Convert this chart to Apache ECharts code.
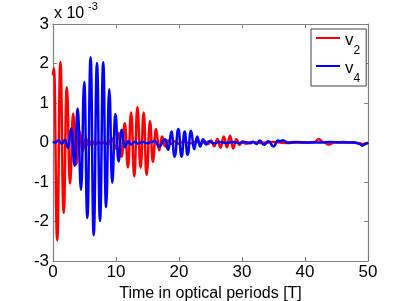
<!DOCTYPE html>
<html><head><meta charset="utf-8">
<script src="https://cdn.jsdelivr.net/npm/echarts@6/dist/echarts.min.js"></script>
<style>html,body{margin:0;padding:0;background:#fff}#c{width:407px;height:301px}</style>
</head><body><div id="c"></div>
<script>
// Values in units of 1e-3
const xTicks = [0, 10, 20, 30, 40, 50];
const yTicks = [-3, -2, -1, 0, 1, 2, 3];
const seriesNames = ['v2', 'v4'];

const v2X = [0, 0.15, 0.67, 1.17, 1.69, 2.19, 2.70, 3.20, 3.68, 4.20, 4.70, 5.20, 5.70, 6.20, 6.70, 7.20, 7.70, 8.20, 8.70, 9.40, 9.90, 10.40, 10.90, 11.40, 11.90, 12.40, 12.90, 13.40, 13.90, 14.40, 14.85, 15.40, 15.85, 16.35, 16.85, 17.30, 17.80, 18.30, 18.80, 19.30, 19.80, 20.80, 21.80, 22.80, 23.60, 24.10, 24.60, 25.10, 25.60, 26.10, 26.60, 27.10, 27.60, 28.10, 28.60, 29.10, 29.60, 30.10, 30.60, 31.5, 33, 35, 37, 39, 40.5, 41.4, 42.2, 43.0, 43.8, 44.6, 46, 47.5, 48.5, 49.3, 50];
const v2Y = [1.70, 1.88, -2.48, 2.04, -1.78, 1.40, -1.04, 0.73, -0.55, 0.30, -0.22, 0.11, -0.08, 0.04, -0.05, 0.01, -0.04, 0.01, -0.05, 0.10, -0.16, 0.24, -0.36, 0.49, -0.63, 0.76, -0.86, 0.90, -0.64, 0.76, -0.82, 0.54, -0.49, 0.34, -0.20, 0.15, -0.10, 0.05, -0.04, 0.03, -0.03, 0.02, -0.02, 0.02, -0.02, 0.03, -0.04, 0.05, -0.09, 0.09, -0.13, 0.15, -0.12, 0.17, -0.15, 0.08, -0.06, 0.03, -0.03, 0.01, -0.01, 0.01, -0.01, 0.00, 0.00, 0.01, 0.08, 0.00, -0.05, 0.00, 0.01, 0.00, -0.02, -0.04, 0.00];

const v4X = [0, 0.4, 0.9, 1.4, 1.9, 2.4, 2.9, 3.44, 3.92, 4.45, 4.96, 5.45, 5.97, 6.46, 6.98, 7.46, 7.97, 8.42, 8.93, 9.40, 9.90, 10.40, 10.90, 11.40, 11.90, 12.40, 13.0, 13.5, 14.2, 15.0, 15.7, 16.2, 16.8, 17.8, 18.3, 18.8, 19.3, 19.9, 20.4, 20.9, 21.35, 21.9, 22.4, 22.9, 23.35, 23.8, 24.3, 24.8, 25.5, 26.5, 27.5, 28.5, 29.5, 30.5, 31.3, 31.8, 32.3, 32.8, 33.5, 34.2, 35.0, 35.7, 36.1, 36.5, 37.2, 38.5, 40, 42, 44, 46, 48, 48.6, 49.1, 49.6, 50];
const v4Y = [0.03, 0.00, 0.06, -0.03, 0.07, -0.14, 0.36, -0.59, 0.86, -1.20, 1.53, -1.91, 2.16, -2.35, 2.01, -1.99, 2.03, -1.64, 1.35, -1.02, 0.72, -0.48, 0.32, -0.12, 0.03, -0.05, 0.02, -0.03, 0.02, -0.02, 0.02, 0.04, -0.10, 0.08, -0.19, 0.28, -0.36, 0.34, -0.36, 0.28, -0.31, 0.30, -0.17, 0.15, -0.10, 0.08, -0.05, 0.03, -0.02, 0.01, -0.01, 0.01, -0.01, 0.01, -0.02, 0.02, -0.04, 0.05, -0.06, 0.03, -0.10, 0.05, 0.03, 0.06, 0.00, 0.01, 0.00, 0.00, 0.01, 0.00, 0.00, -0.03, -0.08, -0.04, 0.00];

const FONT = 'Liberation Sans, Arial, Helvetica, sans-serif';
const AX = '#808080';
const pairs = (xs, ys) => xs.map((x, i) => [x, ys[i]]);

const axisCommon = {
  type: 'value',
  axisLine: { show: true, onZero: false, lineStyle: { color: AX, width: 1.2 } },
  axisTick: { show: true, inside: true, length: 4, lineStyle: { color: AX } },
  splitLine: { show: false }
};

const chart = echarts.init(document.getElementById('c'), null, { renderer: 'canvas' });
chart.setOption({
  animation: false,
  backgroundColor: '#fff',
  grid: { left: 53, right: 39, top: 24, bottom: 40, outerBoundsMode: 'none' },
  xAxis: [
    Object.assign({}, axisCommon, {
      position: 'bottom', min: xTicks[0], max: xTicks[xTicks.length - 1], interval: xTicks[1] - xTicks[0],
      axisLabel: { color: '#000', fontSize: 17, fontFamily: FONT, margin: 3 },
      name: 'Time in optical periods [T]', nameLocation: 'middle', nameGap: 19,
      nameTextStyle: { color: '#000', fontSize: 16, fontFamily: FONT }
    }),
    Object.assign({}, axisCommon, {
      position: 'top', min: xTicks[0], max: xTicks[xTicks.length - 1], interval: xTicks[1] - xTicks[0],
      axisLabel: { show: false }
    })
  ],
  yAxis: [
    Object.assign({}, axisCommon, {
      position: 'left', min: yTicks[0], max: yTicks[yTicks.length - 1], interval: 1,
      axisLabel: { color: '#000', fontSize: 17, fontFamily: FONT, margin: 4 }
    }),
    Object.assign({}, axisCommon, {
      position: 'right', min: yTicks[0], max: yTicks[yTicks.length - 1], interval: 1,
      axisLabel: { show: false }
    })
  ],
  legend: {
    orient: 'vertical', left: 311, top: 29,
    padding: [1, 6, 1, 5], itemGap: 1, itemWidth: 24, itemHeight: 2, icon: 'rect',
    borderColor: '#404040', borderWidth: 1, backgroundColor: '#fff',
    data: seriesNames,
    formatter: name => '{v|v}{s|' + name.slice(1) + '}',
    textStyle: {
      fontFamily: FONT, color: '#000',
      rich: {
        v: { fontSize: 17, lineHeight: 16, verticalAlign: 'top', padding: [2, 0, 0, 0], fontFamily: FONT },
        s: { fontSize: 12, lineHeight: 12, verticalAlign: 'top', padding: [15, 0, 0, 0], fontFamily: FONT }
      }
    }
  },
  graphic: [
    { type: 'text', left: 54, top: 6, style: { text: 'x 10', fontSize: 16, fontFamily: FONT, fill: '#000' } },
    { type: 'text', left: 88, top: 1, style: { text: '-3', fontSize: 11, fontFamily: FONT, fill: '#000' } }
  ],
  series: [
    { name: seriesNames[0], type: 'line', data: pairs(v2X, v2Y), showSymbol: false, symbol: 'none',
      smooth: 0.5, smoothMonotone: 'x', lineStyle: { color: '#ff0000', width: 2.5 }, itemStyle: { color: '#ff0000' } },
    { name: seriesNames[1], type: 'line', data: pairs(v4X, v4Y), showSymbol: false, symbol: 'none',
      smooth: 0.5, smoothMonotone: 'x', lineStyle: { color: '#0000ff', width: 2.5 }, itemStyle: { color: '#0000ff' } }
  ]
});
</script>
</body></html>
